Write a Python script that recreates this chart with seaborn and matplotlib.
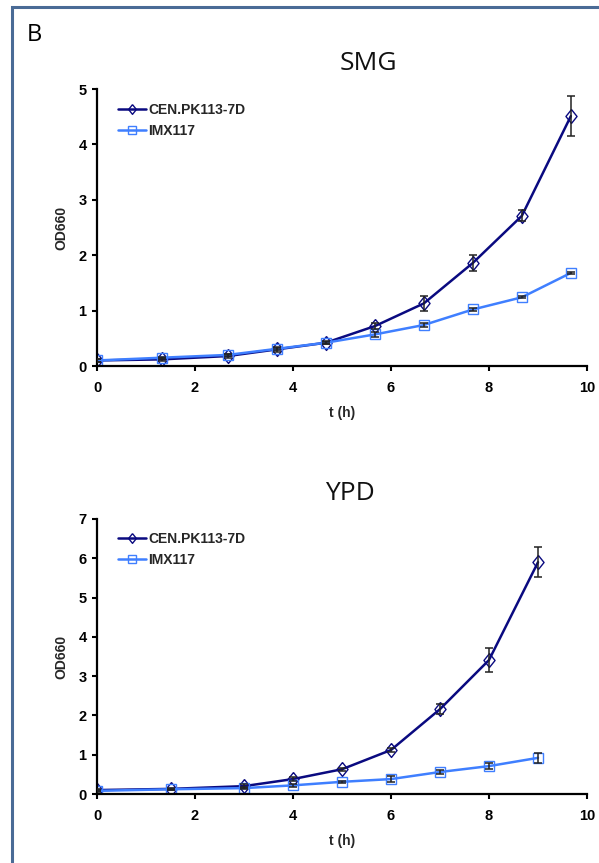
import numpy as np
import pandas as pd
import matplotlib
matplotlib.use("Agg")
import matplotlib.pyplot as plt
import seaborn as sns
from matplotlib.lines import Line2D
from matplotlib.patches import Rectangle

# ---------------- data ----------------
strains = ["CEN.PK113-7D", "IMX117"]

smg_t = [0, 1.33, 2.67, 3.67, 4.67, 5.67, 6.67, 7.67, 8.67, 9.67]
smg_cen = [0.10, 0.12, 0.18, 0.30, 0.42, 0.72, 1.13, 1.86, 2.71, 4.51]
smg_cen_err = [0.03, 0.03, 0.03, 0.04, 0.03, 0.05, 0.13, 0.14, 0.10, 0.36]
smg_imx = [0.10, 0.15, 0.20, 0.31, 0.42, 0.57, 0.74, 1.02, 1.24, 1.68]
smg_imx_err = [0.02, 0.02, 0.02, 0.02, 0.02, 0.05, 0.03, 0.03, 0.02, 0.02]

ypd_t = [0, 1.5, 3, 4, 5, 6, 7, 8, 9]
ypd_cen = [0.10, 0.13, 0.20, 0.38, 0.63, 1.12, 2.16, 3.41, 5.90]
ypd_cen_err = [0.03, 0.03, 0.05, 0.05, 0.04, 0.05, 0.12, 0.30, 0.38]
ypd_imx = [0.08, 0.12, 0.15, 0.22, 0.31, 0.38, 0.56, 0.71, 0.92]
ypd_imx_err = [0.02, 0.02, 0.03, 0.03, 0.03, 0.07, 0.05, 0.08, 0.13]

x_ticks = [0, 2, 4, 6, 8, 10]
smg_yticks = [0, 1, 2, 3, 4, 5]
ypd_yticks = [0, 1, 2, 3, 4, 5, 6, 7]

# ---------------- style ----------------
sns.set_theme(style="ticks")
plt.rcParams["font.family"] = ["Liberation Sans", "DejaVu Sans"]

C_CEN = "#0a0a80"
C_IMX = "#3f7fff"
diamond = [(0, 1), (0.8, 0), (0, -1), (-0.8, 0), (0, 1)]

W, H = 599, 863
fig = plt.figure(figsize=(W / 100, H / 100), dpi=100)


def frac_ax(x0, x1, ytop, ybot):
    return [x0 / W, 1 - ybot / H, (x1 - x0) / W, (ybot - ytop) / H]


def make_df(t, cen, cen_e, imx, imx_e):
    rows = []
    for s, vals, errs in [(strains[0], cen, cen_e), (strains[1], imx, imx_e)]:
        for ti, v, e in zip(t, vals, errs):
            rows.append({"t": ti, "od": v, "err": e, "strain": s})
    return pd.DataFrame(rows)


def panel(rect, df, ymax, yticks, title, title_xy, leg_off):
    ax = fig.add_axes(rect)
    for s, col, mk, ms in [(strains[0], C_CEN, diamond, 10), (strains[1], C_IMX, "s", 7)]:
        d = df[df["strain"] == s]
        sns.lineplot(data=d, x="t", y="od", ax=ax, color=col, lw=1.8,
                     marker=mk, markersize=ms, markerfacecolor="none",
                     markeredgecolor=col, markeredgewidth=1.0,
                     errorbar=None, legend=False, zorder=2)
        ax.errorbar(d["t"], d["od"], yerr=d["err"], fmt="none",
                    ecolor="#222222", elinewidth=1.1, capsize=2.8,
                    capthick=1.1, zorder=3)
    ax.set_xlim(0, 10)
    ax.set_ylim(0, ymax)
    ax.set_xticks(x_ticks)
    ax.set_yticks(yticks)
    sns.despine(ax=ax)
    for sp in ["left", "bottom"]:
        ax.spines[sp].set_linewidth(1.6)
        ax.spines[sp].set_color("black")
        ax.spines[sp].set_clip_on(False)
    ax.tick_params(axis="both", direction="out", length=3.5, width=1.5,
                   color="black", labelsize=10.5, labelcolor="black")
    ax.tick_params(axis="x", pad=7)
    ax.tick_params(axis="y", pad=4)
    for lab in ax.get_xticklabels() + ax.get_yticklabels():
        lab.set_fontweight("bold")
    ax.set_xlabel("t (h)", fontsize=10, fontweight="bold", labelpad=8)
    ax.set_ylabel("OD660", fontsize=10, fontweight="bold", labelpad=7)
    ax.grid(False)

    handles = [
        Line2D([], [], color=C_CEN, lw=1.8, marker=diamond, markersize=7,
               markerfacecolor="none", markeredgecolor=C_CEN, markeredgewidth=1.0),
        Line2D([], [], color=C_IMX, lw=1.8, marker="s", markersize=6,
               markerfacecolor="none", markeredgecolor=C_IMX, markeredgewidth=1.0),
    ]
    axw = rect[2] * W
    axh = rect[3] * H
    ax.legend(handles, strains, loc="upper left",
              bbox_to_anchor=(leg_off[0] / axw, 1 - leg_off[1] / axh),
              frameon=False, borderaxespad=0, borderpad=0,
              handlelength=2.0, handletextpad=0.2, labelspacing=0.5,
              prop={"weight": "bold", "size": 10})
    fig.text(title_xy[0] / W, 1 - title_xy[1] / H, title, ha="center",
             va="center", fontsize=19, family=["Open Sans", "DejaVu Sans"],
             color="#111111")
    return ax


df_smg = make_df(smg_t, smg_cen, smg_cen_err, smg_imx, smg_imx_err)
df_ypd = make_df(ypd_t, ypd_cen, ypd_cen_err, ypd_imx, ypd_imx_err)

panel(frac_ax(97, 587, 89, 366), df_smg, 5, smg_yticks, "SMG", (368, 64), (21, 14))
panel(frac_ax(97, 587, 519, 794), df_ypd, 7, ypd_yticks, "YPD", (350, 493), (21, 13))

fig.text(27 / W, 1 - 35 / H, "B", ha="left", va="center", fontsize=17,
         family=["Open Sans", "DejaVu Sans"], color="black")

border = Rectangle((12 / W, -0.1), 1.2, 1 - 7 / H + 0.1, transform=fig.transFigure,
                   fill=False, edgecolor="#4a6b96", lw=2.2, clip_on=False)
fig.add_artist(border)

fig.savefig("out.png", dpi=100)
